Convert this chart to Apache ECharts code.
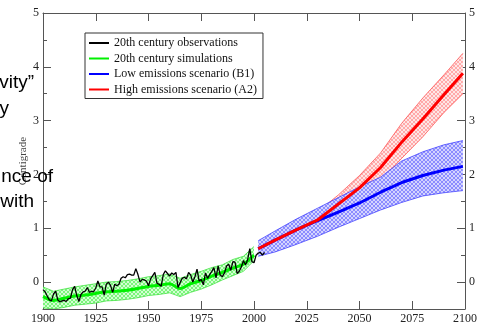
<!DOCTYPE html>
<html>
<head>
<meta charset="utf-8">
<script src="https://cdn.jsdelivr.net/npm/echarts@6/dist/echarts.min.js"></script>
<style>
html, body { margin: 0; padding: 0; background: #fff; }
#chart { width: 480px; height: 328px; }
</style>
</head>
<body>
<div id="chart"></div>
<script>
// observed annual anomalies, 1900 .. 2005
const obsStart = 1900;
const obsValues = [
  -0.14, -0.18, -0.26, -0.33, -0.35, -0.22, -0.17, -0.33, -0.37, -0.35,
  -0.34, -0.36, -0.31, -0.30, -0.14, -0.08, -0.25, -0.36, -0.23, -0.18,
  -0.17, -0.10, -0.19, -0.17, -0.18, -0.11, 0.02, -0.09, -0.09, -0.24,
  -0.04, 0.00, -0.06, -0.19, -0.04, -0.07, -0.04, 0.07, 0.10, 0.08,
  0.14, 0.15, 0.13, 0.13, 0.25, 0.14, 0.00, 0.05, 0.04, 0.02,
  -0.07, 0.06, 0.12, 0.18, -0.02, -0.04, -0.08, 0.14, 0.21, 0.16,
  0.11, 0.17, 0.14, 0.18, -0.10, -0.01, 0.07, 0.09, 0.06, 0.18,
  0.13, 0.00, 0.10, 0.24, 0.02, 0.05, -0.05, 0.17, 0.07, 0.14,
  0.20, 0.27, 0.08, 0.30, 0.13, 0.10, 0.17, 0.30, 0.33, 0.22,
  0.38, 0.37, 0.16, 0.20, 0.28, 0.40, 0.32, 0.42, 0.62, 0.38,
  0.36, 0.50, 0.54, 0.55, 0.50, 0.55
];

// 20th century simulations (mean and spread)
const simYears = [1900, 1905, 1910, 1915, 1920, 1925, 1930, 1935, 1940, 1945, 1950,
  1955, 1960, 1965, 1970, 1975, 1980, 1985, 1990, 1995, 2000];
const simMean = [-0.27, -0.34, -0.30, -0.26, -0.24, -0.21, -0.18, -0.17, -0.15, -0.12, -0.08,
  -0.06, -0.03, -0.12, -0.03, 0.03, 0.11, 0.18, 0.26, 0.33, 0.50];
const simHigh = [-0.09, -0.17, -0.13, -0.09, -0.06, -0.03, 0.00, 0.01, 0.03, 0.06, 0.10,
  0.12, 0.15, 0.07, 0.14, 0.20, 0.27, 0.32, 0.42, 0.48, 0.66];
const simLow = [-0.48, -0.50, -0.47, -0.43, -0.41, -0.39, -0.35, -0.34, -0.32, -0.29, -0.25,
  -0.23, -0.20, -0.27, -0.19, -0.13, -0.05, 0.04, 0.12, 0.20, 0.40];

// scenarios
const futYears = [2002, 2010, 2020, 2030, 2040, 2050, 2060, 2070, 2080, 2090, 2099];
const b1Mean = [0.62, 0.78, 0.97, 1.14, 1.30, 1.47, 1.67, 1.85, 1.98, 2.08, 2.15];
const b1High = [0.77, 0.95, 1.17, 1.37, 1.57, 1.77, 1.95, 2.25, 2.42, 2.55, 2.63];
const b1Low = [0.48, 0.56, 0.70, 0.85, 1.02, 1.18, 1.34, 1.48, 1.60, 1.66, 1.70];
const a2Mean = [0.62, 0.78, 0.97, 1.15, 1.45, 1.75, 2.13, 2.60, 3.03, 3.48, 3.88];
const a2High = [0.68, 0.85, 1.08, 1.30, 1.62, 1.98, 2.40, 2.95, 3.42, 3.85, 4.25];
const a2Low = [0.56, 0.70, 0.88, 1.02, 1.30, 1.55, 1.88, 2.30, 2.70, 3.15, 3.50];

const legendNames = ['20th century observations', '20th century simulations',
  'Low emissions scenario (B1)', 'High emissions scenario (A2)'];

const serif = 'Liberation Serif';

function hatch(bg, fg) {
  const c = document.createElement('canvas');
  c.width = 4; c.height = 4;
  const g = c.getContext('2d');
  g.fillStyle = bg; g.fillRect(0, 0, 4, 4);
  g.fillStyle = fg;
  for (let i = 0; i < 4; i++) {
    g.fillRect(i, i, 1, 1);
    g.fillRect(3 - i, i, 1, 1);
  }
  return { image: c, repeat: 'repeat' };
}

function pairs(xs, ys) { return xs.map((x, i) => [x, ys[i]]); }

// shaded spread between two curves, drawn as one polygon on the grid's scales
function band(xs, lo, hi, edge, fill) {
  return {
    type: 'custom', silent: true, clip: true,
    data: [[xs[0], lo[0]]],
    renderItem: function (params, api) {
      const top = xs.map((x, i) => api.coord([x, hi[i]]));
      const bot = xs.map((x, i) => api.coord([x, lo[i]]));
      return {
        type: 'group',
        children: [
          { type: 'polygon', shape: { points: top.concat(bot.slice().reverse()) },
            style: { fill: fill, stroke: null } },
          { type: 'polyline', shape: { points: top },
            style: { fill: null, stroke: edge, lineWidth: 0.7 } },
          { type: 'polyline', shape: { points: bot },
            style: { fill: null, stroke: edge, lineWidth: 0.7 } }
        ]
      };
    }
  };
}

const obsData = obsValues.map((v, i) => [obsStart + i, v]);

const series = [
  band(futYears, a2Low, a2High, '#ff4040', hatch('#ffe6e6', '#ffaaaa')),
  band(futYears, b1Low, b1High, '#3030ff', hatch('#d4d4ff', '#8c8cff')),
  band(simYears, simLow, simHigh, '#30e030', hatch('#d2ffd2', '#7cf47c')),
  {
    name: legendNames[1], type: 'line', data: pairs(simYears, simMean), symbol: 'none',
    smooth: 0.3, itemStyle: { color: '#00f000' }, lineStyle: { color: '#00f000', width: 3 }
  }, {
    name: legendNames[0], type: 'line', data: obsData, symbol: 'none',
    itemStyle: { color: '#000' }, lineStyle: { color: '#000', width: 1.3 }
  }, {
    name: legendNames[2], type: 'line', data: pairs(futYears, b1Mean), symbol: 'none',
    itemStyle: { color: '#0000ff' }, lineStyle: { color: '#0000ff', width: 3 }
  }, {
    name: legendNames[3], type: 'line', data: pairs(futYears, a2Mean), symbol: 'none',
    itemStyle: { color: '#ff0000' }, lineStyle: { color: '#ff0000', width: 3 }
  }
];

const axisColor = '#555';
const majorY = [0, 1, 2, 3, 4, 5];
const minorY = [0.5, 1.5, 2.5, 3.5, 4.5];

function yAxisDef(pos, ticks, len, labels) {
  return {
    type: 'value', position: pos, min: -0.5, max: 5,
    axisLine: { show: labels, lineStyle: { color: axisColor } },
    axisTick: { show: true, inside: true, length: len, customValues: ticks,
      lineStyle: { color: axisColor } },
    axisLabel: { show: labels, customValues: majorY, margin: 4,
      fontFamily: serif, fontSize: 12, color: '#222' },
    splitLine: { show: false }
  };
}

function xAxisDef(pos, labels) {
  return {
    type: 'value', position: pos, min: 1900, max: 2100, interval: 25,
    axisLine: { onZero: false, lineStyle: { color: axisColor } },
    axisTick: { inside: true, length: 8, lineStyle: { color: axisColor } },
    axisLabel: { show: labels, margin: 4, fontFamily: serif, fontSize: 12, color: '#222',
      formatter: v => String(v) },
    splitLine: { show: false }
  };
}

const chart = echarts.init(document.getElementById('chart'));
const left = yAxisDef('left', majorY, 8, true);
left.name = 'Centigrade';
left.nameLocation = 'middle';
left.nameGap = 14;
left.nameMoveOverlap = false;
left.nameTextStyle = { fontFamily: serif, fontSize: 11, color: '#444' };

chart.setOption({
  animation: false,
  backgroundColor: '#fff',
  grid: { left: 43, right: 11, top: 13, bottom: 19 },
  xAxis: [xAxisDef('bottom', true), xAxisDef('top', false)],
  yAxis: [
    left,
    yAxisDef('right', majorY, 8, true),
    yAxisDef('left', minorY, 4, false),
    yAxisDef('right', minorY, 4, false)
  ],
  legend: {
    data: legendNames, orient: 'vertical', left: 85, top: 33,
    icon: 'rect', itemWidth: 20, itemHeight: 2, itemGap: 3.5,
    padding: [4, 6, 3, 4], selectedMode: false,
    borderColor: '#333', borderWidth: 1, backgroundColor: '#fff',
    textStyle: { fontFamily: serif, fontSize: 12, color: '#111', lineHeight: 12 }
  },
  graphic: [
    { type: 'text', z: 100, style: { text: 'vity\u201d', x: 34, y: 83, align: 'right', verticalAlign: 'middle', font: '19px "Liberation Sans"', fill: '#000' } },
    { type: 'text', z: 100, style: { text: 'y', x: 9, y: 109, align: 'right', verticalAlign: 'middle', font: '19px "Liberation Sans"', fill: '#000' } },
    { type: 'text', z: 100, style: { text: 'nce of', x: 53, y: 177, align: 'right', verticalAlign: 'middle', font: '19px "Liberation Sans"', fill: '#000' } },
    { type: 'text', z: 100, style: { text: 'with', x: 34, y: 202, align: 'right', verticalAlign: 'middle', font: '19px "Liberation Sans"', fill: '#000' } }
  ],
  series: series
});
</script>
</body>
</html>
